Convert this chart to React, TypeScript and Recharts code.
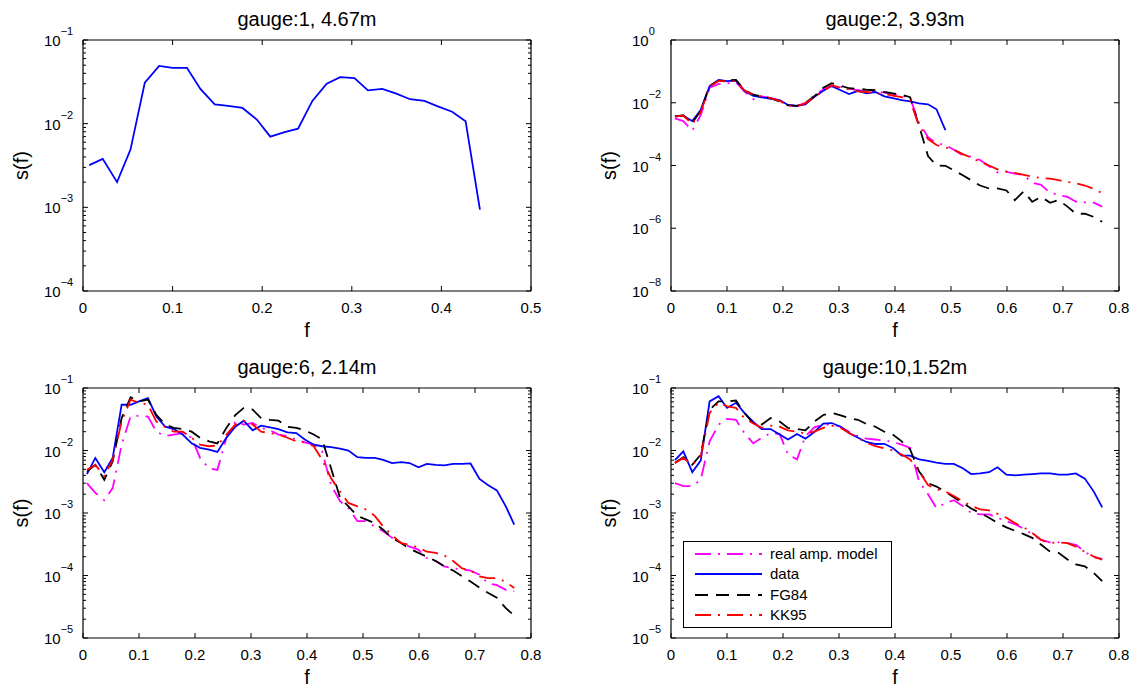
import { LineChart, Line, XAxis, YAxis, Legend } from "recharts";

const FONT = '"Liberation Sans", Arial, Helvetica, sans-serif';

// frequency bins (Hz) shared by all gauges
const F = [
  0.007, 0.022, 0.038, 0.053, 0.069, 0.085, 0.1, 0.116, 0.131, 0.147,
  0.162, 0.178, 0.194, 0.209, 0.225, 0.24, 0.256, 0.272, 0.287, 0.303,
  0.318, 0.334, 0.349, 0.365, 0.381, 0.396, 0.412, 0.427, 0.443, 0.459,
  0.474, 0.49, 0.505, 0.521, 0.536, 0.552, 0.568, 0.583, 0.599, 0.614,
  0.63, 0.645, 0.661, 0.677, 0.692, 0.708, 0.723, 0.739, 0.755, 0.77,
];

const X_TICKS_05 = [0, 0.1, 0.2, 0.3, 0.4, 0.5];
const X_TICKS_08 = [0, 0.1, 0.2, 0.3, 0.4, 0.5, 0.6, 0.7, 0.8];
const Y_MAJOR_1 = [1e-4, 1e-3, 1e-2, 1e-1];
const Y_MAJOR_2 = [1e-8, 1e-6, 1e-4, 1e-2, 1];
const Y_MAJOR_5 = [1e-5, 1e-4, 1e-3, 1e-2, 1e-1];

// gauge 1
const G1_DATA = [
  3.2e-3, 3.8e-3, 2.0e-3, 4.9e-3, 3.1e-2, 4.9e-2, 4.65e-2, 4.65e-2, 2.6e-2, 1.7e-2,
  1.63e-2, 1.54e-2, 1.12e-2, 7.0e-3, 7.9e-3, 8.7e-3, 1.87e-2, 3.0e-2, 3.6e-2, 3.5e-2,
  2.5e-2, 2.6e-2, 2.3e-2, 1.96e-2, 1.87e-2, 1.61e-2, 1.39e-2, 1.07e-2, 9.4e-4,
];

// gauge 2
const G2_DATA = [
  3.7e-3, 3.8e-3, 2.6e-3, 5.9e-3, 3.4e-2, 5.3e-2, 4.9e-2, 5.1e-2, 2.4e-2, 1.66e-2,
  1.48e-2, 1.34e-2, 1.22e-2, 8.5e-3, 7.9e-3, 8.9e-3, 1.55e-2, 2.4e-2, 3.4e-2, 2.5e-2,
  1.9e-2, 2.4e-2, 2.0e-2, 2.2e-2, 1.6e-2, 1.4e-2, 1.22e-2, 1.1e-2, 9.5e-3, 8.9e-3,
  6.2e-3, 1.35e-3,
];
const G2_FG84 = [
  3.7e-3, 4.0e-3, 2.3e-3, 5.5e-3, 3.5e-2, 5.0e-2, 5.2e-2, 5.3e-2, 2.6e-2, 1.8e-2,
  1.6e-2, 1.4e-2, 1.1e-2, 8.2e-3, 8.0e-3, 1.0e-2, 1.6e-2, 3.0e-2, 4.2e-2, 3.5e-2,
  2.9e-2, 2.8e-2, 2.6e-2, 2.5e-2, 2.2e-2, 2.0e-2, 1.8e-2, 1.5e-2, 1.8e-3, 2.0e-4,
  1.0e-4, 9.8e-5, 7.0e-5, 4.9e-5, 3.4e-5, 2.3e-5, 1.85e-5, 1.85e-5, 1.6e-5, 7.9e-6,
  1.5e-5, 7.0e-6, 1.0e-5, 6.5e-6, 7.9e-6, 4.9e-6, 2.9e-6, 2.9e-6, 2.3e-6, 1.6e-6,
];
const G2_KK95 = [
  3.6e-3, 3.9e-3, 2.1e-3, 5.0e-3, 3.3e-2, 5.0e-2, 4.8e-2, 4.9e-2, 2.5e-2, 1.8e-2,
  1.6e-2, 1.4e-2, 1.15e-2, 8.0e-3, 7.8e-3, 9.5e-3, 1.5e-2, 2.4e-2, 3.6e-2, 3.0e-2,
  2.6e-2, 2.3e-2, 2.2e-2, 2.0e-2, 1.9e-2, 1.7e-2, 1.5e-2, 1.2e-2, 1.8e-3, 7.0e-4,
  4.5e-4, 3.8e-4, 3.2e-4, 2.3e-4, 1.8e-4, 1.3e-4, 1.0e-4, 7.5e-5, 6.5e-5, 5.8e-5,
  5.0e-5, 4.4e-5, 4.0e-5, 3.8e-5, 3.4e-5, 3.0e-5, 2.7e-5, 2.3e-5, 1.8e-5, 1.3e-5,
];
const G2_REAL = [
  3.2e-3, 2.6e-3, 1.3e-3, 4.0e-3, 3.0e-2, 4.0e-2, 4.1e-2, 4.5e-2, 2.3e-2, 1.3e-2,
  1.6e-2, 1.4e-2, 1.2e-2, 8.5e-3, 7.8e-3, 1.0e-2, 1.7e-2, 2.7e-2, 3.5e-2, 3.2e-2,
  2.8e-2, 2.5e-2, 2.3e-2, 2.3e-2, 2.1e-2, 1.9e-2, 1.7e-2, 1.4e-2, 2.3e-3, 8.0e-4,
  5.2e-4, 4.5e-4, 3.2e-4, 2.1e-4, 1.9e-4, 1.5e-4, 9.5e-5, 6.0e-5, 6.3e-5, 5.5e-5,
  5.0e-5, 2.8e-5, 2.4e-5, 1.35e-5, 1.15e-5, 1.0e-5, 7.0e-6, 6.7e-6, 6.5e-6, 4.9e-6,
];

// gauge 6
const G6_DATA = [
  4.2e-3, 7.6e-3, 4.5e-3, 7.6e-3, 5.4e-2, 5.4e-2, 6.1e-2, 6.9e-2, 3.5e-2, 2.4e-2,
  2.2e-2, 1.8e-2, 1.3e-2, 1.1e-2, 1.03e-2, 9.5e-3, 1.6e-2, 2.4e-2, 3.0e-2, 2.1e-2,
  2.5e-2, 2.35e-2, 2.2e-2, 1.95e-2, 1.9e-2, 1.5e-2, 1.24e-2, 1.17e-2, 1.13e-2, 1.07e-2,
  1.0e-2, 7.8e-3, 7.6e-3, 7.6e-3, 7.1e-3, 6.3e-3, 6.5e-3, 6.3e-3, 5.4e-3, 6.1e-3,
  5.9e-3, 5.8e-3, 6.1e-3, 6.1e-3, 6.2e-3, 3.5e-3, 2.8e-3, 2.3e-3, 1.28e-3, 6.5e-4,
];
const G6_FG84 = [
  4.6e-3, 5.9e-3, 3.4e-3, 6.7e-3, 3.3e-2, 7.1e-2, 6.1e-2, 6.5e-2, 3.7e-2, 2.6e-2,
  2.3e-2, 2.2e-2, 2.0e-2, 1.6e-2, 1.4e-2, 1.3e-2, 2.3e-2, 3.7e-2, 4.8e-2, 4.5e-2,
  3.3e-2, 3.1e-2, 3.0e-2, 2.4e-2, 2.3e-2, 2.1e-2, 1.8e-2, 1.5e-2, 5.2e-3, 1.74e-3,
  1.28e-3, 9.0e-4, 7.9e-4, 6.9e-4, 5.4e-4, 4.0e-4, 3.3e-4, 2.7e-4, 2.3e-4, 2.0e-4,
  1.7e-4, 1.4e-4, 1.2e-4, 9.7e-5, 8.0e-5, 6.4e-5, 5.3e-5, 4.4e-5, 3.0e-5, 2.3e-5,
];
const G6_KK95 = [
  4.9e-3, 5.9e-3, 3.9e-3, 7.1e-3, 2.9e-2, 6.5e-2, 5.8e-2, 5.4e-2, 2.9e-2, 2.35e-2,
  2.0e-2, 2.0e-2, 1.6e-2, 1.24e-2, 1.17e-2, 1.2e-2, 1.8e-2, 2.6e-2, 3.0e-2, 2.6e-2,
  2.0e-2, 1.9e-2, 1.8e-2, 1.6e-2, 1.4e-2, 1.35e-2, 1.17e-2, 7.1e-3, 3.6e-3, 2.2e-3,
  1.45e-3, 1.28e-3, 1.14e-3, 9.0e-4, 6.1e-4, 4.4e-4, 3.3e-4, 3.1e-4, 2.8e-4, 2.4e-4,
  2.3e-4, 2.1e-4, 1.7e-4, 1.3e-4, 1.2e-4, 9.7e-5, 9.1e-5, 9.1e-5, 7.9e-5, 6.3e-5,
];
const G6_REAL = [
  3.0e-3, 2.1e-3, 1.6e-3, 2.5e-3, 1.24e-2, 3.5e-2, 3.6e-2, 3.5e-2, 2.0e-2, 1.7e-2,
  1.8e-2, 1.9e-2, 1.6e-2, 7.6e-3, 5.2e-3, 4.9e-3, 1.6e-2, 2.9e-2, 2.6e-2, 2.75e-2,
  2.3e-2, 2.1e-2, 1.8e-2, 1.7e-2, 1.5e-2, 1.35e-2, 1.24e-2, 9.7e-3, 2.8e-3, 1.54e-3,
  1.2e-3, 7.4e-4, 7.4e-4, 6.1e-4, 5.1e-4, 4.0e-4, 3.3e-4, 2.9e-4, 2.6e-4, 1.9e-4,
  1.7e-4, 1.4e-4, 1.3e-4, 1.25e-4, 1.2e-4, 1.03e-4, 7.5e-5, 7.0e-5, 5.9e-5, 5.6e-5,
];

// gauge 10
const G10_DATA = [
  7.0e-3, 9.7e-3, 4.5e-3, 6.9e-3, 6.1e-2, 7.4e-2, 4.8e-2, 5.8e-2, 4.0e-2, 2.86e-2,
  2.2e-2, 2.2e-2, 1.8e-2, 1.5e-2, 1.84e-2, 1.55e-2, 1.98e-2, 2.7e-2, 2.75e-2, 2.4e-2,
  1.9e-2, 1.6e-2, 1.37e-2, 1.27e-2, 1.28e-2, 1.1e-2, 8.3e-3, 8.3e-3, 7.2e-3, 6.8e-3,
  6.4e-3, 6.1e-3, 6.1e-3, 5.2e-3, 4.2e-3, 4.3e-3, 4.5e-3, 5.4e-3, 4.1e-3, 4.0e-3,
  4.1e-3, 4.2e-3, 4.3e-3, 4.3e-3, 4.1e-3, 4.1e-3, 4.3e-3, 3.55e-3, 2.2e-3, 1.23e-3,
];
const G10_FG84 = [
  6.3e-3, 7.8e-3, 5.9e-3, 8.6e-3, 4.5e-2, 6.1e-2, 6.1e-2, 6.3e-2, 4.0e-2, 2.7e-2,
  2.6e-2, 3.3e-2, 2.9e-2, 2.3e-2, 2.2e-2, 2.1e-2, 2.9e-2, 3.7e-2, 4.0e-2, 3.65e-2,
  3.3e-2, 3.1e-2, 2.65e-2, 2.4e-2, 2.0e-2, 1.8e-2, 1.4e-2, 1.04e-2, 4.6e-3, 3.0e-3,
  2.65e-3, 2.2e-3, 1.78e-3, 1.45e-3, 1.18e-3, 1.0e-3, 8.4e-4, 6.9e-4, 5.9e-4, 5.2e-4,
  4.6e-4, 4.0e-4, 3.1e-4, 2.4e-4, 2.3e-4, 1.8e-4, 1.5e-4, 1.4e-4, 1.1e-4, 8.1e-5,
];
const G10_KK95 = [
  6.3e-3, 7.6e-3, 5.9e-3, 8.1e-3, 4.0e-2, 5.8e-2, 5.1e-2, 4.8e-2, 3.3e-2, 2.7e-2,
  2.3e-2, 2.5e-2, 2.4e-2, 2.1e-2, 2.0e-2, 1.85e-2, 2.0e-2, 2.3e-2, 2.5e-2, 2.3e-2,
  1.9e-2, 1.6e-2, 1.33e-2, 1.17e-2, 1.08e-2, 1.0e-2, 8.6e-3, 7.2e-3, 4.6e-3, 2.8e-3,
  2.4e-3, 2.2e-3, 1.87e-3, 1.54e-3, 1.3e-3, 1.14e-3, 1.1e-3, 9.7e-4, 8.4e-4, 6.9e-4,
  5.9e-4, 4.8e-4, 3.7e-4, 3.3e-4, 3.4e-4, 3.3e-4, 2.9e-4, 2.4e-4, 2.0e-4, 1.8e-4,
];
const G10_REAL = [
  3.0e-3, 2.7e-3, 2.7e-3, 3.4e-3, 1.4e-2, 2.6e-2, 3.2e-2, 3.1e-2, 1.9e-2, 1.3e-2,
  1.6e-2, 1.9e-2, 1.84e-2, 8.6e-3, 7.2e-3, 1.7e-2, 2.35e-2, 2.6e-2, 2.6e-2, 2.4e-2,
  2.0e-2, 1.7e-2, 1.55e-2, 1.5e-2, 1.45e-2, 1.37e-2, 1.24e-2, 1.1e-2, 3.2e-3, 2.0e-3,
  1.2e-3, 1.45e-3, 1.6e-3, 1.3e-3, 1.0e-3, 9.5e-4, 9.5e-4, 8.4e-4, 7.4e-4, 6.6e-4,
  5.6e-4, 4.6e-4, 3.7e-4, 3.4e-4, 3.4e-4, 3.3e-4, 3.1e-4, 2.4e-4, 1.95e-4, 1.85e-4,
];

type Key = "real" | "data" | "fg84" | "kk95";

const STYLE: Record<Key, { name: string; color: string; dash?: string }> = {
  real: { name: "real amp. model", color: "#ff00ff", dash: "16 7 2 7" },
  data: { name: "data", color: "#0000ff" },
  fg84: { name: "FG84", color: "#000000", dash: "13 8" },
  kk95: { name: "KK95", color: "#ff0000", dash: "16 7 2 7" },
};
const ORDER: Key[] = ["real", "data", "fg84", "kk95"];

const PLOT_W = 448;
const AXIS_W = 60;
const TOP = 40;
const BOTTOM = 50;
const RIGHT = 10;

// 2..9 x each decade, for the small log ticks
function withMinor(major: number[]) {
  const s = [...major].sort((a, b) => a - b);
  const out: number[] = [];
  s.forEach((m, i) => {
    out.push(m);
    if (i < s.length - 1) for (let k = 2; k <= 9; k++) out.push(m * k);
  });
  return out;
}

const isMajor = (v: number, majors: number[]) =>
  majors.some((m) => Math.abs(Math.log10(m) - Math.log10(v)) < 1e-6);

function LeftTick(props: any) {
  const { x, y, payload, majors } = props;
  const major = isMajor(payload.value, majors);
  const e = Math.round(Math.log10(payload.value));
  return (
    <g>
      <line x1={x} x2={x + (major ? 5 : 3)} y1={y} y2={y} stroke="#000" strokeWidth={1} />
      {major && (
        <text x={x - 39} y={y + 6} fontSize={15} fontFamily={FONT} fill="#000">
          10
          <tspan dy={-11} fontSize={11}>{e < 0 ? `\u2212${-e}` : `${e}`}</tspan>
        </text>
      )}
    </g>
  );
}

function RightTick(props: any) {
  const { x, y, payload, majors } = props;
  const major = isMajor(payload.value, majors);
  return <line x1={x} x2={x - (major ? 5 : 3)} y1={y} y2={y} stroke="#000" strokeWidth={1} />;
}

function BottomTick(props: any) {
  const { x, y, payload } = props;
  return (
    <g>
      <line x1={x} x2={x} y1={y} y2={y - 5} stroke="#000" strokeWidth={1} />
      <text x={x} y={y + 22} textAnchor="middle" fontSize={15} fontFamily={FONT} fill="#000">
        {payload.value}
      </text>
    </g>
  );
}

function TopTick(props: any) {
  const { x, y } = props;
  return <line x1={x} x2={x} y1={y} y2={y + 5} stroke="#000" strokeWidth={1} />;
}

function LegendBox({ payload }: any) {
  // keep the plotting order, not recharts' name sort
  const items = [...(payload || [])].sort(
    (a: any, b: any) => ORDER.indexOf(a.dataKey) - ORDER.indexOf(b.dataKey)
  );
  return (
    <div
      style={{
        width: 209, height: 87, boxSizing: "border-box", border: "1px solid #000",
        background: "#fff", paddingTop: 2, fontFamily: FONT, fontSize: 15, color: "#000",
      }}
    >
      {items.map((entry: any) => {
        const st = STYLE[entry.dataKey as Key];
        return (
          <div key={entry.dataKey} style={{ display: "flex", alignItems: "center", height: 20.3 }}>
            <svg width={67} height={10} style={{ marginLeft: 11 }}>
              <line x1={0} x2={67} y1={5} y2={5} stroke={st.color} strokeWidth={1.8} strokeDasharray={st.dash} />
            </svg>
            <span style={{ marginLeft: 8, lineHeight: "16px" }}>{st.name}</span>
          </div>
        );
      })}
    </div>
  );
}

type PanelProps = {
  left: number;
  top: number;
  h: number;
  title: string;
  xMax: number;
  xTicks: number[];
  yMajor: number[];
  minor: boolean;
  series: Partial<Record<Key, number[]>>;
  legend?: boolean;
};

function Panel(p: PanelProps) {
  const keys = ORDER.filter((k) => p.series[k]);
  const n = Math.max(...keys.map((k) => p.series[k]!.length));
  const rows = F.slice(0, n).map((f, i) => {
    const r: Record<string, number | null> = { f };
    keys.forEach((k) => {
      r[k] = p.series[k]![i] ?? null;
    });
    return r;
  });
  const yTicks = p.minor ? withMinor(p.yMajor) : p.yMajor;
  const yDomain = [Math.min(...p.yMajor), Math.max(...p.yMajor)];
  const W = AXIS_W + PLOT_W + RIGHT;
  const H = TOP + p.h + BOTTOM;
  const axisLine = { stroke: "#000", strokeWidth: 1.2 };

  return (
    <div style={{ position: "absolute", left: p.left - AXIS_W, top: p.top - TOP, width: W, height: H }}>
      <LineChart width={W} height={H} data={rows} margin={{ top: TOP - 10, right: 0, bottom: 0, left: 0 }}>
        <XAxis
          xAxisId="b" dataKey="f" type="number" domain={[0, p.xMax]} ticks={p.xTicks}
          interval={0} height={BOTTOM} tickSize={0} tickMargin={0} tickLine={false}
          axisLine={axisLine} tick={<BottomTick />} allowDataOverflow
        />
        <XAxis
          xAxisId="t" orientation="top" dataKey="f" type="number" domain={[0, p.xMax]}
          ticks={p.xTicks} interval={0} height={10} tickSize={0} tickMargin={0} tickLine={false}
          axisLine={axisLine} tick={<TopTick />} allowDataOverflow
        />
        <YAxis
          yAxisId="l" type="number" scale="log" domain={yDomain} ticks={yTicks} interval={0}
          width={AXIS_W} tickSize={0} tickMargin={0} tickLine={false} axisLine={axisLine}
          tick={<LeftTick majors={p.yMajor} />} allowDataOverflow
        />
        <YAxis
          yAxisId="r" orientation="right" type="number" scale="log" domain={yDomain} ticks={yTicks}
          interval={0} width={RIGHT} tickSize={0} tickMargin={0} tickLine={false} axisLine={axisLine}
          tick={<RightTick majors={p.yMajor} />} allowDataOverflow
        />
        {keys.map((k) => (
          <Line
            key={k}
            xAxisId="b"
            yAxisId="l"
            type="linear"
            dataKey={k}
            name={STYLE[k].name}
            stroke={STYLE[k].color}
            strokeDasharray={STYLE[k].dash}
            strokeWidth={1.8}
            dot={false}
            activeDot={false}
            isAnimationActive={false}
          />
        ))}
        {p.legend && (
          <Legend
            layout="vertical"
            align="center"
            verticalAlign="middle"
            wrapperStyle={{ left: 72, top: 193, width: 209, height: 87 }}
            content={(lp: any) => <LegendBox payload={lp.payload} />}
          />
        )}
      </LineChart>
      <svg
        width={W}
        height={H}
        style={{ position: "absolute", left: 0, top: 0, pointerEvents: "none", overflow: "visible" }}
      >
        <text x={AXIS_W + PLOT_W / 2} y={TOP - 14} textAnchor="middle" fontSize={20} fontFamily={FONT} fill="#000">
          {p.title}
        </text>
        <text
          x={AXIS_W - 55}
          y={TOP + p.h / 2}
          transform={`rotate(-90, ${AXIS_W - 55}, ${TOP + p.h / 2})`}
          textAnchor="middle"
          fontSize={20}
          fontFamily={FONT}
          fill="#000"
        >
          s(f)
        </text>
        <text x={AXIS_W + PLOT_W / 2} y={TOP + p.h + 46} textAnchor="middle" fontSize={20} fontFamily={FONT} fill="#000">
          f
        </text>
      </svg>
    </div>
  );
}

export default function App() {
  return (
    <div style={{ position: "absolute", left: 0, top: 0, width: 1138, height: 692, background: "#fff" }}>
      <Panel
        left={83} top={40} h={251} title="gauge:1, 4.67m" xMax={0.5} xTicks={X_TICKS_05}
        yMajor={Y_MAJOR_1} minor series={{ data: G1_DATA }}
      />
      <Panel
        left={671} top={40} h={251} title="gauge:2, 3.93m" xMax={0.8} xTicks={X_TICKS_08}
        yMajor={Y_MAJOR_2} minor={false}
        series={{ real: G2_REAL, data: G2_DATA, fg84: G2_FG84, kk95: G2_KK95 }}
      />
      <Panel
        left={83} top={388} h={250} title="gauge:6, 2.14m" xMax={0.8} xTicks={X_TICKS_08}
        yMajor={Y_MAJOR_5} minor
        series={{ real: G6_REAL, data: G6_DATA, fg84: G6_FG84, kk95: G6_KK95 }}
      />
      <Panel
        left={671} top={388} h={250} title="gauge:10,1.52m" xMax={0.8} xTicks={X_TICKS_08}
        yMajor={Y_MAJOR_5} minor legend
        series={{ real: G10_REAL, data: G10_DATA, fg84: G10_FG84, kk95: G10_KK95 }}
      />
    </div>
  );
}
